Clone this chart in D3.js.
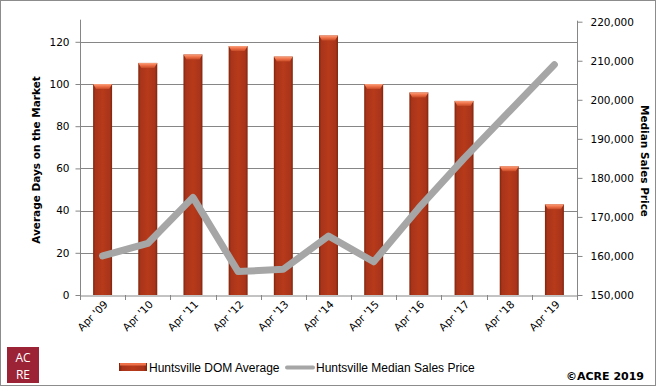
<!DOCTYPE html>
<html><head><meta charset="utf-8">
<script src="https://cdn.jsdelivr.net/npm/d3@7"></script>
<style>body{margin:0;background:#fff}svg{display:block}</style>
</head><body>
<svg id="c" width="656" height="386"></svg>
<script>
const categories = ["Apr '09","Apr '10","Apr '11","Apr '12","Apr '13","Apr '14","Apr '15","Apr '16","Apr '17","Apr '18","Apr '19"];
const domAverage = [100,110,114,118,113,123,100,96,92,61,43];
const medianPrice = [160000,163200,175000,156000,156600,165100,158500,172300,185000,197000,209000];
const leftTicks = [0,20,40,60,80,100,120];
const rightTicks = [150000,160000,170000,180000,190000,200000,210000,220000];

const svg = d3.select("#c");
const W=656,H=386;
const m={l:80,r:577,t:20.7,b:295};
const font="'DejaVu Sans', Verdana, sans-serif";

svg.append("rect").attr("x",0.5).attr("y",0.5).attr("width",W-1).attr("height",H-1).attr("fill","#fff").attr("stroke","#8c8c8c");

const defs=svg.append("defs");
const g1=defs.append("linearGradient").attr("id","barG").attr("x1","0").attr("x2","1").attr("y1","0").attr("y2","0");
[[0,"#7e240c"],[0.12,"#a8341a"],[0.5,"#b73a1a"],[0.88,"#a8341a"],[1,"#7e240c"]].forEach(s=>g1.append("stop").attr("offset",s[0]).attr("stop-color",s[1]));
const g2=defs.append("linearGradient").attr("id","capG").attr("x1","0").attr("x2","0").attr("y1","0").attr("y2","1");
[[0,"#f9a27e"],[0.5,"#ee7048"],[1,"#c44a26"]].forEach(s=>g2.append("stop").attr("offset",s[0]).attr("stop-color",s[1]));

const x=d3.scaleBand().domain(categories).range([m.l,m.r]).paddingInner(0).paddingOuter(0);
const yL=d3.scaleLinear().domain([0,130]).range([m.b,m.t]);
const yR=d3.scaleLinear().domain([150000,220000]).range([m.b,m.t+1]);

// gridlines
svg.append("g").selectAll("line").data(leftTicks.filter(d=>d>0)).join("line")
  .attr("x1",m.l).attr("x2",m.r).attr("y1",d=>Math.round(yL(d))+0.5).attr("y2",d=>Math.round(yL(d))+0.5)
  .attr("stroke","#868686").attr("stroke-width",1);

// bars
const bw=x.bandwidth()*0.42;
const bars=svg.append("g").selectAll("g").data(categories).join("g");
bars.append("rect").attr("x",d=>x(d)+x.bandwidth()/2-bw/2).attr("width",bw)
  .attr("y",(d,i)=>yL(domAverage[i])).attr("height",(d,i)=>m.b-yL(domAverage[i]))
  .attr("fill","url(#barG)");
bars.append("path").attr("d",(d,i)=>{
  const x0=x(d)+x.bandwidth()/2-bw/2, y0=yL(domAverage[i]);
  return `M${x0},${y0}L${x0+bw},${y0}L${x0+bw-3},${y0+5}L${x0+3},${y0+5}Z`;
}).attr("fill","url(#capG)");

// line
const line=d3.line().x((d,i)=>x(categories[i])+x.bandwidth()/2).y(d=>yR(d));
svg.append("path").datum(medianPrice).attr("d",line).attr("fill","none")
  .attr("stroke","#a6a6a6").attr("stroke-width",7).attr("stroke-linejoin","round").attr("stroke-linecap","round");

// axes
const axL=d3.axisLeft(yL).tickValues(leftTicks).tickSize(5).tickPadding(6);
const gL=svg.append("g").attr("transform",`translate(${m.l+0.5},0)`).call(axL);
const axR=d3.axisRight(yR).tickValues(rightTicks).tickSize(5).tickPadding(8).tickFormat(d3.format(","));
const gR=svg.append("g").attr("transform",`translate(${m.r+0.5},0)`).call(axR);
const axB=d3.axisBottom(x).tickSize(0).tickFormat("");
const gB=svg.append("g").attr("transform",`translate(0,${m.b+0.5})`).call(axB);
[gL,gR,gB].forEach(g=>{
  g.select(".domain").attr("stroke","#868686");
  g.selectAll(".tick line").attr("stroke","#868686");
  g.selectAll("text").attr("font-family",font).attr("font-size","10.5px").attr("fill","#000");
});
gL.select(".domain").attr("d",`M-0,${m.b}V${m.t-1}`);
gR.select(".domain").attr("d",`M0,${m.b}V${m.t}`);
// category boundary ticks
svg.append("g").selectAll("line").data(categories.slice(1).concat(["__end"])).join("line")
  .attr("x1",(d,i)=>Math.round(m.l+x.bandwidth()*(i+1))+0.5).attr("x2",(d,i)=>Math.round(m.l+x.bandwidth()*(i+1))+0.5)
  .attr("y1",m.b).attr("y2",m.b+5).attr("stroke","#868686");
svg.append("line").attr("x1",m.l+0.5).attr("x2",m.l+0.5).attr("y1",m.b).attr("y2",m.b+5).attr("stroke","#868686");

// x labels
svg.append("g").selectAll("text").data(categories).join("text")
  .attr("transform",d=>`translate(${x(d)+x.bandwidth()/2+6},${m.b+10}) rotate(-45)`)
  .attr("text-anchor","end").attr("font-family",font).attr("font-size","10.5px").text(d=>d);

// axis titles
svg.append("text").attr("transform","translate(40,160) rotate(-90)").attr("text-anchor","middle")
  .attr("font-family",font).attr("font-weight","bold").attr("font-size","10.5px").text("Average Days on the Market");
svg.append("text").attr("transform","translate(641,161) rotate(90)").attr("text-anchor","middle")
  .attr("font-family",font).attr("font-weight","bold").attr("font-size","10.5px").text("Median Sales Price");

// legend
const lf="'Liberation Sans', Arial, sans-serif";
const lg=svg.append("g");
lg.append("rect").attr("x",119).attr("y",363).attr("width",28).attr("height",8).attr("fill","url(#barG)");
lg.append("rect").attr("x",120).attr("y",363).attr("width",26).attr("height",2.5).attr("fill","#ee7048");
lg.append("text").attr("x",149).attr("y",372).attr("font-family",lf).attr("font-size","12px").text("Huntsville DOM Average");
lg.append("line").attr("x1",287).attr("x2",313).attr("y1",367.5).attr("y2",367.5).attr("stroke","#a6a6a6").attr("stroke-width",4).attr("stroke-linecap","round");
lg.append("text").attr("x",316).attr("y",372).attr("font-family",lf).attr("font-size","12px").text("Huntsville Median Sales Price");

// logo
svg.append("rect").attr("x",7).attr("y",347).attr("width",32).attr("height",36).attr("fill","#9b2335");
svg.append("text").attr("x",23).attr("y",362).attr("text-anchor","middle").attr("fill","#fff").attr("font-family","'Open Sans', sans-serif").attr("font-size","12px").text("AC");
svg.append("text").attr("x",23).attr("y",379).attr("text-anchor","middle").attr("fill","#fff").attr("font-family","'Open Sans', sans-serif").attr("font-size","12px").text("RE");

svg.append("text").attr("x",644).attr("y",380).attr("text-anchor","end").attr("font-family",font).attr("font-weight","bold").attr("font-size","11px").text("©ACRE 2019");
</script>
</body></html>
